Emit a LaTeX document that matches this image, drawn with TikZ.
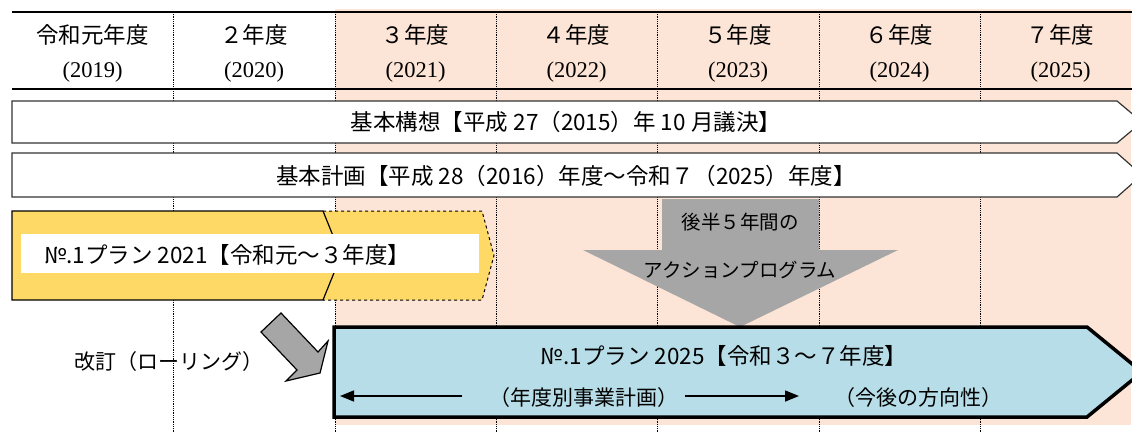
\documentclass[tikz,border=0pt]{standalone}
\usepackage{fontspec}
\setmainfont{Noto Sans CJK JP}
\newfontfamily\yearfont{Liberation Serif}
\usetikzlibrary{arrows.meta}
\definecolor{pinkbg}{HTML}{FCE4D6}
\definecolor{planyellow}{HTML}{FFD966}
\definecolor{planblue}{HTML}{B7DEE8}
\definecolor{arrowgray}{HTML}{A6A6A6}
\begin{document}
\begin{tikzpicture}[x=1pt,y=-1pt,
    yearline/.style={densely dotted,line width=0.8pt},
    band/.style={draw=black!80,fill=white,line width=1.2pt},
    label/.style={font=\fontsize{22.5}{26}\selectfont,inner sep=0pt},
    smalllabel/.style={font=\fontsize{21}{24}\selectfont,inner sep=0pt},
    graylabel/.style={font=\fontsize{19.5}{23}\selectfont,inner sep=0pt},
    headlabel/.style={font=\fontsize{22.5}{26}\selectfont,inner sep=0pt},
    yearlabel/.style={font=\yearfont\fontsize{22.5}{26}\selectfont,inner sep=0pt},
    flow/.style={line width=1.5pt,-{Triangle[length=14pt,width=11pt]}}]
  \useasboundingbox (0,0) rectangle (1132,432);
  \clip (0,0) rectangle (1132,432);
  \fill[pinkbg] (335,9) rectangle (1131,425);
  \draw[yearline] (173,12) -- (173,432);
  \draw[yearline] (335,12) -- (335,432);
  \draw[yearline] (496,12) -- (496,432);
  \draw[yearline] (657,12) -- (657,432);
  \draw[yearline] (819,12) -- (819,432);
  \draw[yearline] (980,12) -- (980,432);
  \draw[line width=1.5pt] (12,12) -- (1132,12) (12,89) -- (1132,89);
  \draw
    (92.5,35) node[headlabel] (h0) {令和元年度}
    (254,35) node[headlabel] (h1) {２年度}
    (415.5,35) node[headlabel] (h2) {３年度}
    (576.5,35) node[headlabel] (h3) {４年度}
    (738,35) node[headlabel] (h4) {５年度}
    (899.5,35) node[headlabel] (h5) {６年度}
    (1060.5,35) node[headlabel] (h6) {７年度};
  \draw
    (92.5,72) node[yearlabel] (c0) {(2019)}
    (254,72) node[yearlabel] (c1) {(2020)}
    (415.5,72) node[yearlabel] (c2) {(2021)}
    (576.5,72) node[yearlabel] (c3) {(2022)}
    (738,72) node[yearlabel] (c4) {(2023)}
    (899.5,72) node[yearlabel] (c5) {(2024)}
    (1060.5,72) node[yearlabel] (c6) {(2025)};
  \draw[band] (12,101) -- (1117,101) -- (1142,122) -- (1117,143) -- (12,143) -- cycle;
  \node[label] (vision) at (566,122) {基本構想【平成 27（2015）年 10 月議決】};
  \draw[band] (12,153) -- (1117,153) -- (1142,175) -- (1117,197) -- (12,197) -- cycle;
  \node[label] (basic) at (566,176) {基本計画【平成 28（2016）年度～令和７（2025）年度】};
  \fill[planyellow] (12,211) -- (482,211) -- (494,255.5) -- (482,300) -- (12,300) -- cycle;
  \draw[line width=1pt,dashed] (323,211) -- (482,211) -- (494,255.5) -- (482,300) -- (323,300);
  \draw[line width=1.2pt] (323,211) -- (12,211) -- (12,300) -- (323,300) -- (341,255.5) -- cycle;
  \fill[white] (21,234) rectangle (479,273);
  \node[label,anchor=west] (plan21) at (44,255) {№.1プラン 2021【令和元～３年度】};
  \fill[arrowgray] (662,199) -- (819,199) -- (819,250) -- (898,250) -- (740,327) -- (583,250) -- (662,250) -- cycle;
  \node[graylabel] (late) at (740,222) {後半５年間の};
  \node[graylabel] (action) at (740,270) {アクションプログラム};
  \draw[line width=1.2pt,fill=arrowgray] (261,332) -- (281,313) -- (318,352) -- (328,341) -- (320,373) -- (286,381) -- (297,370) -- cycle;
  \node[smalllabel] (rolling) at (169,362) {改訂（ローリング）};
  \draw[line width=3.5pt,fill=planblue] (334,327) -- (1087,327) -- (1142,372) -- (1087,417) -- (334,417) -- cycle;
  \node[label] (plan25) at (724,356) {№.1プラン 2025【令和３～７年度】};
  \node[smalllabel] (yearly) at (584,398) {（年度別事業計画）};
  \node[smalllabel] (future) at (918,398) {（今後の方向性）};
  \coordinate (l1) at (462,396);
  \coordinate (l0) at (340,396);
  \coordinate (r0) at (685,396);
  \coordinate (r1) at (799,396);
  \draw[flow] (l1) -- (l0);
  \draw[flow] (r0) -- (r1);
\end{tikzpicture}
\end{document}
